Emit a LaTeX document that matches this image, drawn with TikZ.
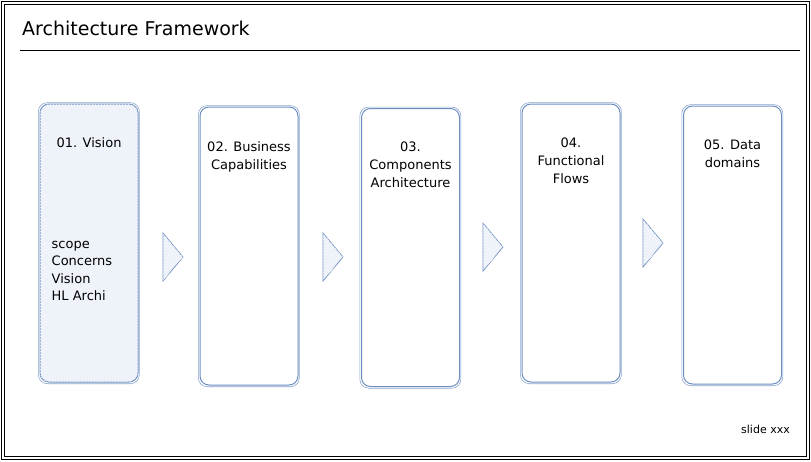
\documentclass[tikz,border=0pt]{standalone}
\usepackage{fontspec}
\setmainfont{DejaVu Sans}
\usetikzlibrary{positioning,patterns}
\definecolor{sketchblue}{HTML}{6C8EBF}
\definecolor{paleblue}{HTML}{F3F7FD}

\begin{document}
\begin{tikzpicture}[x=1pt,y=-1pt,
    stage/.style={draw=sketchblue, line width=1pt, rounded corners=9pt,
        minimum width=98pt, minimum height=278pt, inner sep=0pt},
    sketch/.style={draw=sketchblue!80, line width=0.6pt, rounded corners=9pt},
    hatched/.style={fill=paleblue, postaction={pattern=north east lines, pattern color=sketchblue!16}},
    stagetext/.style={font=\fontsize{13}{18}\selectfont, align=center, inner sep=0pt},
    tri/.style={draw=sketchblue, line width=0.7pt, hatched}]
    \useasboundingbox (0,0) rectangle (811,461);

    % Frame and title
    \draw[line width=1.6pt] (1.5,1.5) rectangle (809.5,459.5);
    \draw[line width=0.6pt] (4.5,4.5) rectangle (806.5,456.5);
    \node[anchor=base west, inner sep=0pt, font=\fontsize{19}{22}\selectfont] (title) at (22,35) {Architecture Framework};
    \draw[line width=1pt] (20,50) -- (800,50);

    % Stages
    \node[stage, hatched] (vision) at (89,243) {};
    \node[stage] (business) at (249,246) {};
    \node[stage] (components) at (410.5,247.5) {};
    \node[stage] (flows) at (571,243) {};
    \node[stage] (domains) at (732.5,245) {};
    \foreach \s in {vision,business,components,flows,domains}
        \draw[sketch] ([shift={(-1.2pt,0.9pt)}]\s.north west) rectangle ([shift={(0.9pt,-1.2pt)}]\s.south east);

    \node[stagetext, below=34pt of vision.north] (visiontxt) {01. Vision};
    \node[stagetext, below=35pt of business.north] (businesstxt) {02. Business\\Capabilities};
    \node[stagetext, below=34pt of components.north] (componentstxt) {03.\\Components\\Architecture};
    \node[stagetext, below=34pt of flows.north] (flowstxt) {04.\\Functional\\Flows};
    \node[stagetext, below=34pt of domains.north] (domainstxt) {05. Data\\domains};
    \node[stagetext, align=left, anchor=north west, font=\fontsize{13}{17.5}\selectfont]
        (visionlist) at ([shift={(12pt,2pt)}]vision.west) {scope\\Concerns\\Vision\\HL Archi};

    % Chevrons between stages
    \foreach \x/\y in {163/257, 323/257, 483/247, 643/243}
        \draw[tri] (\x,\y-24) -- (\x+20,\y) -- (\x,\y+24) -- cycle;

    \node[anchor=base east, inner sep=0pt, font=\fontsize{11}{13}\selectfont] (slide) at (790,433) {slide xxx};
\end{tikzpicture}
\end{document}
